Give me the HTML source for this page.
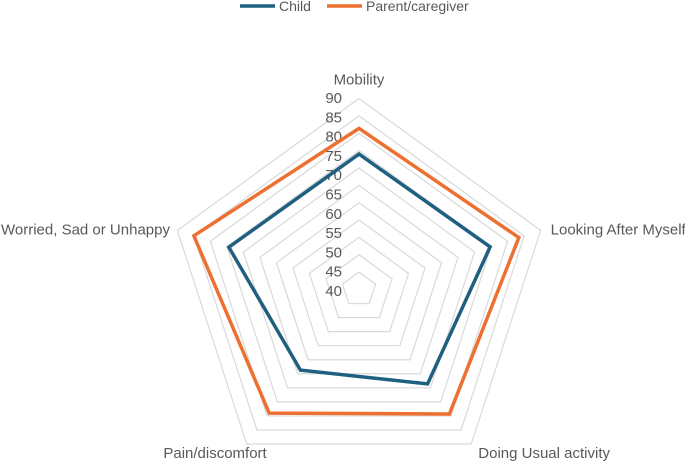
<!DOCTYPE html>
<html><head><meta charset="utf-8"><style>
body{margin:0;background:#fff;font-family:"Liberation Sans",sans-serif}
text{font-family:"Liberation Sans",sans-serif;fill:#595959}
</style></head><body>
<svg id="c" width="685" height="461">
<g>
<line x1="240" y1="6" x2="275" y2="6" stroke="#1f5f80" stroke-width="3.5"/>
<text x="279" y="11" font-size="14">Child</text>
<line x1="327" y1="6" x2="362" y2="6" stroke="#ed7031" stroke-width="3.5"/>
<text x="366" y="11" font-size="14">Parent/caregiver</text>
</g>
</svg>
<script>
const categories=["Mobility","Looking After Myself","Doing Usual activity","Pain/discomfort","Worried, Sad or Unhappy"];
const childValues=[74,74.7,68.6,63.7,74.4];
const parentValues=[81.4,83.4,79.3,79,85];
const ticks=[40,45,50,55,60,65,70,75,80,85,90];
const minV=35,maxV=90,cx=359,cy=289.5,R=191;
const svg=document.getElementById('c');const NS='http://www.w3.org/2000/svg';
function r(v){return (v-minV)/(maxV-minV)*R;}
function pt(i,v){const a=-Math.PI/2+i*2*Math.PI/5;return [cx+r(v)*Math.cos(a),cy+r(v)*Math.sin(a)];}
function mk(t,a){const e=document.createElementNS(NS,t);for(const k in a)e.setAttribute(k,a[k]);svg.appendChild(e);return e;}
ticks.forEach(t=>{
 const p=mk('polygon',{points:categories.map((c,i)=>pt(i,t).join(',')).join(' '),fill:'none',stroke:'#d9d9d9','stroke-width':1.2});
 
 
});
ticks.forEach(t=>{
 const y=103+(maxV-t)/5*19.3;
 const e=mk('text',{x:342,y:y,'font-size':15,'text-anchor':'end'});e.textContent=t;
 
 
});
categories.forEach((c,i)=>{
 const [x,y]=pt(i,maxV);let tx=x,ty=y,an='middle';
 if(i==0){ty=y-14;}else if(i==1){tx=x+10;ty=y+4;an='start';}else if(i==4){tx=1;ty=y+4;an='start';}
 else if(i==2){tx=x+7;ty=y+14;an='start';}else{tx=x+20;ty=y+14;an='end';}
 const e=mk('text',{x:tx,y:ty,'font-size':15,'text-anchor':an});e.textContent=c;
 
 
});
[[childValues,'#1f5f80','series-child'],[parentValues,'#ed7031','series-parent']].forEach(([vals,col,n])=>{
 const p=mk('polygon',{points:vals.map((v,i)=>pt(i,v).join(',')).join(' '),fill:'none',stroke:col,'stroke-width':3.5,'stroke-linejoin':'miter'});
 
 
});
</script>
</body></html>
